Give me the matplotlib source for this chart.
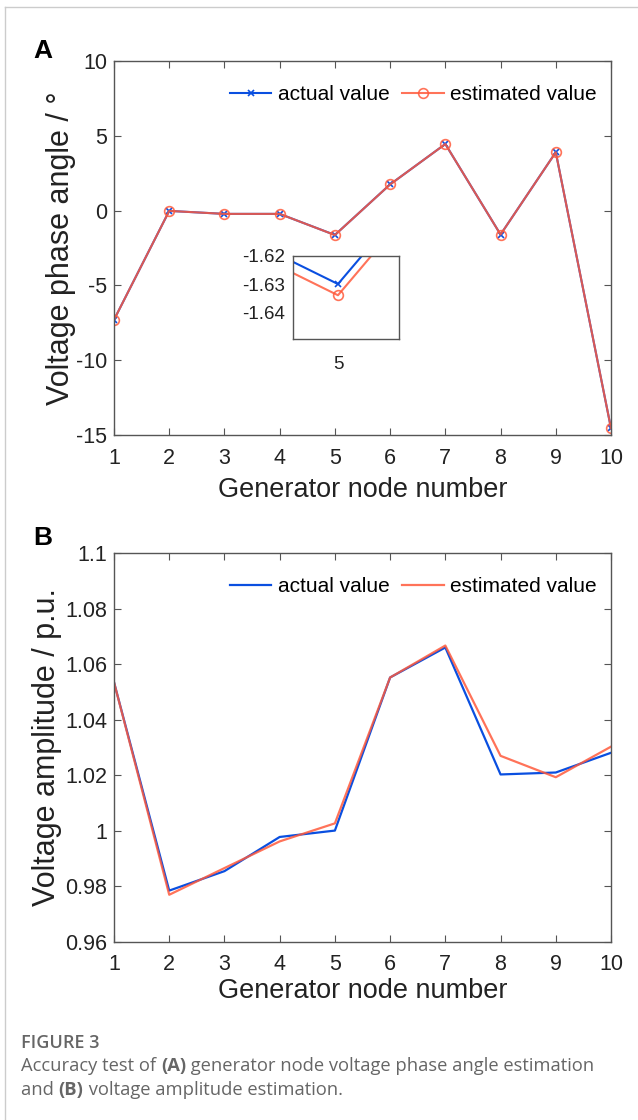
import matplotlib.pyplot as plt
import numpy as np
from matplotlib.lines import Line2D

plt.rcParams['font.family'] = ['Liberation Sans', 'DejaVu Sans']
plt.rcParams['axes.unicode_minus'] = False

# data
nodes = [1, 2, 3, 4, 5, 6, 7, 8, 9, 10]
angle_actual = [-7.30, -0.02, -0.22, -0.22, -1.630, 1.75, 4.45, -1.60, 3.90, -14.55]
angle_est = [-7.30, -0.02, -0.22, -0.22, -1.634, 1.75, 4.45, -1.60, 3.90, -14.55]
amp_actual = [1.0535, 0.9785, 0.9855, 0.9978, 1.0001, 1.0552, 1.0660, 1.0203, 1.0210, 1.0281]
amp_est = [1.0535, 0.9770, 0.9866, 0.9962, 1.0027, 1.0552, 1.0667, 1.0270, 1.0193, 1.0303]

blue = '#0a4fe0'
orange = '#ff5a3c'
frame = '#555555'
txt = '#222222'

fig = plt.figure(figsize=(6.38, 11.2), dpi=100)
W, H = 638, 1120

def box(l, t, r, b):
    return [l / W, 1 - b / H, (r - l) / W, (b - t) / H]

def style(ax):
    for s in ax.spines.values():
        s.set_color(frame)
        s.set_linewidth(1.0)
    ax.tick_params(direction='in', length=5, width=0.8, color=frame,
                   top=True, right=True, labelsize=15.5, labelcolor=txt, pad=9)
    ax.tick_params(axis='y', pad=5)

# panel A
axA = fig.add_axes(box(114, 61, 611, 435))
axA.plot(nodes, angle_actual, color=blue, lw=1.5, marker='x', ms=5, mew=1.2,
         label='actual value')
axA.plot(nodes, angle_est, color=orange, lw=1.5, alpha=0.85, marker='o', ms=7,
         mfc='none', mew=1.2, label='estimated value')
axA.set_xlim(1, 10)
axA.set_ylim(-15, 10)
axA.set_xticks(nodes)
axA.set_yticks([-15, -10, -5, 0, 5, 10])
style(axA)
axA.set_xlabel('Generator node number', fontsize=19.5, color=txt, labelpad=6)
axA.set_ylabel('Voltage phase angle / °', fontsize=22, color=txt, labelpad=0)
axA.legend(loc='upper right', ncol=2, frameon=False, fontsize=15,
           handlelength=2.0, handletextpad=0.3, columnspacing=0.6,
           bbox_to_anchor=(1.0, 0.975), borderaxespad=0.3)
fig.text(43 / W, 1 - 51 / H, 'A', fontsize=19, fontweight='bold', ha='center', va='center')

# inset
axI = fig.add_axes(box(293, 256, 399, 339))
axI.plot(nodes, angle_actual, color=blue, lw=1.5, marker='x', ms=5, mew=1.2)
axI.plot(nodes, angle_est, color=orange, lw=1.5, alpha=0.85, marker='o', ms=7,
         mfc='none', mew=1.2)
axI.set_xlim(4.9944, 5.0076)
axI.set_ylim(-1.6496, -1.62)
axI.set_xticks([5])
axI.set_yticks([-1.62, -1.63, -1.64])
axI.set_yticklabels(['-1.62', '-1.63', '-1.64'])
for s in axI.spines.values():
    s.set_color(frame)
    s.set_linewidth(1.0)
axI.tick_params(length=0, labelsize=13.5, labelcolor=txt, pad=6)
axI.tick_params(axis='x', pad=12)

# panel B
axB = fig.add_axes(box(114, 553, 611, 942))
axB.plot(nodes, amp_actual, color=blue, lw=1.6, label='actual value')
axB.plot(nodes, amp_est, color=orange, lw=1.6, alpha=0.85, label='estimated value')
axB.set_xlim(1, 10)
axB.set_ylim(0.96, 1.1)
axB.set_xticks(nodes)
axB.set_yticks([0.96, 0.98, 1.0, 1.02, 1.04, 1.06, 1.08, 1.1])
axB.set_yticklabels(['0.96', '0.98', '1', '1.02', '1.04', '1.06', '1.08', '1.1'])
style(axB)
axB.set_xlabel('Generator node number', fontsize=19.5, color=txt, labelpad=2)
axB.set_ylabel('Voltage amplitude / p.u.', fontsize=22, color=txt, labelpad=2)
axB.legend(loc='upper right', ncol=2, frameon=False, fontsize=15,
           handlelength=2.0, handletextpad=0.3, columnspacing=0.6,
           bbox_to_anchor=(1.0, 0.975), borderaxespad=0.3)
fig.text(43 / W, 1 - 538 / H, 'B', fontsize=19, fontweight='bold', ha='center', va='center')

# card border
fig.add_artist(Line2D([5 / W, 5 / W], [0, 1 - 7 / H], color='#cccccc', lw=1))
fig.add_artist(Line2D([5 / W, 1], [1 - 7 / H, 1 - 7 / H], color='#cccccc', lw=1))

# caption, built piece by piece so the (A)/(B) parts can be bold
cap_font = ['Open Sans', 'DejaVu Sans']
fig.text(21 / W, 1 - 1043 / H, 'FIGURE 3', fontsize=13, color='#666666',
         family=cap_font, fontweight='semibold', va='center')
renderer = fig.canvas.get_renderer()
cap_lines = [
    (1066, [('Accuracy test of ', 'normal'), ('(A)', 'bold'),
            (' generator node voltage phase angle estimation', 'normal')]),
    (1090, [('and ', 'normal'), ('(B)', 'bold'),
            (' voltage amplitude estimation.', 'normal')]),
]
for y, pieces in cap_lines:
    x = 21
    for s, wt in pieces:
        t = fig.text(x / W, 1 - y / H, s, fontsize=13.2, color='#666666',
                     family=cap_font, fontweight=wt, va='center')
        x += t.get_window_extent(renderer).width

fig.savefig('out.png', dpi=100)
